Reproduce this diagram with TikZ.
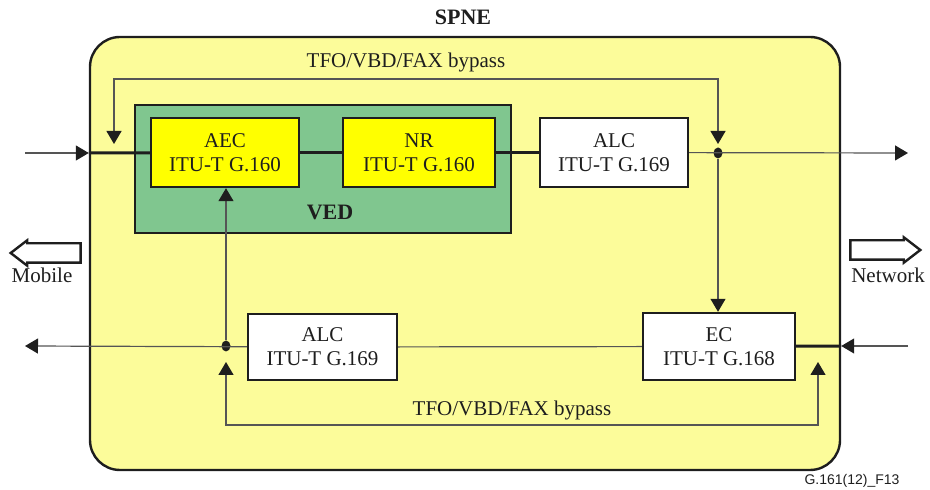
\documentclass[tikz,border=0pt]{standalone}
\usepackage{fontspec}
\setmainfont{Liberation Serif}
\newfontfamily\figsans{Liberation Sans}
\usetikzlibrary{arrows.meta,shapes.arrows,shapes.geometric}
\definecolor{spnefill}{HTML}{FCFC9A}
\definecolor{vedfill}{HTML}{80C68F}
\definecolor{blockfill}{HTML}{FFFF00}
\definecolor{wire}{HTML}{555555}
\definecolor{ink}{HTML}{1E1E1E}

\begin{document}
\begin{tikzpicture}[
  x=0.5pt, y=-0.5pt,
  >={Triangle[length=6.5pt,width=7.5pt,color=ink]},
  txt/.style={font=\fontsize{10.5}{12}\selectfont, text=ink, inner sep=0pt},
  blk/.style={txt, draw=ink, line width=1.2pt, fill=white, minimum width=74pt, minimum height=34.5pt, align=center},
  ved/.style={blk, fill=blockfill},
  arr/.style={->, color=wire, line width=0.6pt},
  bus/.style={color=ink, line width=1.5pt},
  bypass/.style={<->, color=wire, line width=0.6pt},
  dot/.style={ellipse, fill=ink, inner sep=0pt, minimum width=4.5pt, minimum height=5.5pt},
  hollow/.style={single arrow, draw=ink, line width=1.2pt, fill=white, minimum height=35pt, inner sep=4.25pt, single arrow head extend=1.5pt, single arrow tip angle=75},
]
\useasboundingbox (0,0) rectangle (930,490);

% outer SPNE box
\node[draw=ink, line width=1.2pt, fill=spnefill, rounded corners=15pt, minimum width=375pt, minimum height=216.5pt] (spne) at (465,253.5) {};
\node[txt, font=\fontsize{11}{12}\selectfont\bfseries] (spnelbl) at (463,17) {SPNE};

% VED group
\node[draw=ink, line width=1.2pt, fill=vedfill, minimum width=188pt, minimum height=64pt] (vedbox) at (323,169) {};
\node[txt, font=\fontsize{11}{12}\selectfont\bfseries] (vedlbl) at (330,212) {VED};

% blocks
\node[ved] (aec) at (225,152.5) {AEC\\ITU-T G.160};
\node[ved, minimum width=76pt] (nr) at (419,152.5) {NR\\ITU-T G.160};
\node[blk] (alctop) at (614,152.5) {ALC\\ITU-T G.169};
\node[blk, minimum width=76pt, minimum height=33.5pt] (ec) at (719,346.5) {EC\\ITU-T G.168};
\node[blk, minimum width=74.5pt, minimum height=33pt] (alcbot) at (322.5,347) {ALC\\ITU-T G.169};

% junctions and ends
\node[dot] (jtop) at (718,153) {};
\node[dot] (jbot) at (226,346) {};
\coordinate (inL) at (25,153);
\coordinate (outR) at (908,153);
\coordinate (inR) at (908,346);
\coordinate (outL) at (25,346);

% send path (mobile to network)
\draw[arr] (inL) -- (spne.west |- inL);
\draw[bus] (spne.west |- inL) -- (aec);
\draw[bus] (aec) -- (nr);
\draw[bus] (nr) -- (alctop);
\draw[arr] (alctop) -- (outR);
\draw[arr] (jtop) -- (jtop |- ec.north);

% receive path (network to mobile)
\draw[arr] (inR) -- (spne.east |- inR);
\draw[bus] (spne.east |- inR) -- (ec);
\draw[wire, line width=0.6pt] (ec) -- (alcbot);
\draw[arr] (alcbot) -- (outL);
\draw[arr] (jbot) -- (jbot |- aec.south);

% bypass loops
\coordinate (tfoA) at (114,144);
\coordinate (tfoB) at (718,144);
\coordinate (tfotop) at (400,79);
\draw[bypass] (tfoA) |- (tfotop) -| (tfoB);
\node[txt] (tfolbl1) at (406,62) {TFO/VBD/FAX bypass};

\coordinate (tfoC) at (226,362);
\coordinate (tfoD) at (818,362);
\coordinate (tfobot) at (512,425);
\draw[bypass] (tfoC) |- (tfobot) -| (tfoD);
\node[txt] (tfolbl2) at (512,410) {TFO/VBD/FAX bypass};

% side markers
\node[hollow, shape border rotate=180] (mobarr) at (52,253) {};
\node[txt] (mobile) at (42,275) {Mobile};
\node[hollow] (netarr) at (879,250) {};
\node[txt] (network) at (888,275) {Network};

\node[txt, font=\figsans\fontsize{7}{8}\selectfont] (figid) at (852,481) {G.161(12)\_F13};
\end{tikzpicture}
\end{document}
